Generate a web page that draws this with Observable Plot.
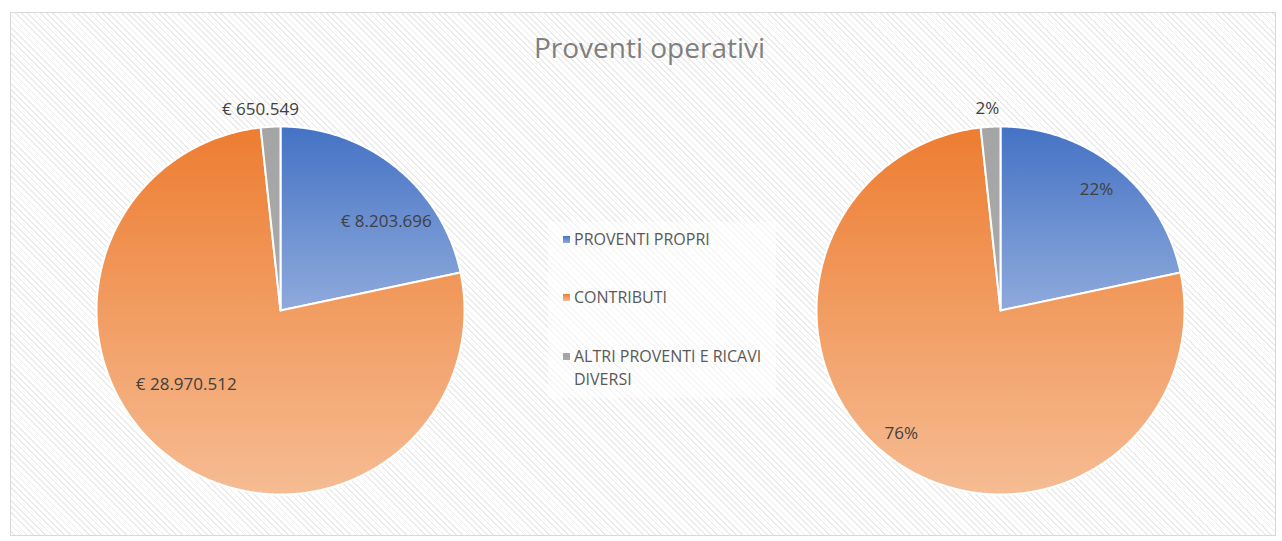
<!DOCTYPE html>
<html>
<head>
<meta charset="utf-8">
<script src="https://cdn.jsdelivr.net/npm/d3@7"></script>
<script src="https://cdn.jsdelivr.net/npm/@observablehq/plot@0.6"></script>
<style>
  html, body { margin: 0; padding: 0; background: #ffffff; }
  #wrap { position: relative; width: 1282px; height: 541px; overflow: hidden; }
  #frame {
    position: absolute; left: 10px; top: 12px; width: 1266px; height: 524px;
    border: 1px solid #d9d9d9; box-sizing: border-box;
    background: repeating-linear-gradient(45deg, #ffffff 0px, #ffffff 2px, #ebebeb 2px, #ebebeb 3.2px, #ffffff 3.2px, #ffffff 4.4px);
  }
  #chart { position: absolute; left: 0; top: 0; }
  #legend {
    position: absolute; left: 548px; top: 222px; width: 228px; height: 176px;
    background: rgba(255,255,255,0.55);
    font-family: "Open Sans", sans-serif; font-size: 16px; color: #595959;
  }
  .item { position: absolute; left: 26px; line-height: 23px; }
  .sw { position: absolute; left: -11px; top: 8px; width: 7px; height: 7px; }
</style>
</head>
<body>
<div id="wrap">
  <div id="frame"></div>
  <div id="chart"></div>
  <div id="legend"></div>
</div>
<script>
// ---- data ----
const title = "Proventi operativi";
const categories = ["PROVENTI PROPRI", "CONTRIBUTI", "ALTRI PROVENTI E RICAVI DIVERSI"];
const values = [8203696, 28970512, 650549];
const valueLabels = ["€ 8.203.696", "€ 28.970.512", "€ 650.549"];
const percentLabels = ["22%", "76%", "2%"];

// ---- style / layout ----
const W = 1282, H = 541;
const topColors = ["#4472C4", "#ED7D31", "#A5A5A5"];
const bottomColors = ["#8FAADC", "#F6BC93", "#A9A9A9"];
const R = 184;
const pies = [
  {cx: 280, cy: 310, labels: valueLabels,
   labelPos: [[50, 0.75], [232, 0.65], [-5.7, 1.1]]},
  {cx: 1000, cy: 310, labels: percentLabels,
   labelPos: [[38.4, 0.84], [218.8, 0.86], [-3.7, 1.1]]}
];

const arcs = d3.pie().sort(null).value(d => d)(values);

function slicePoints(a, cx, cy) {
  const pts = [{x: cx, y: cy}];
  const n = Math.max(2, Math.ceil((a.endAngle - a.startAngle) / (Math.PI / 360)));
  for (let i = 0; i <= n; i++) {
    const t = a.startAngle + (a.endAngle - a.startAngle) * i / n;
    pts.push({x: cx + R * Math.sin(t), y: cy - R * Math.cos(t)});
  }
  pts.push({x: cx, y: cy});
  return pts;
}

const defs = () => {
  const ns = "http://www.w3.org/2000/svg";
  const d = document.createElementNS(ns, "defs");
  topColors.forEach((c, i) => {
    const g = document.createElementNS(ns, "linearGradient");
    g.setAttribute("id", "grad" + i);
    g.setAttribute("x1", "0"); g.setAttribute("y1", "0");
    g.setAttribute("x2", "0"); g.setAttribute("y2", "1");
    const s1 = document.createElementNS(ns, "stop");
    s1.setAttribute("offset", "0"); s1.setAttribute("stop-color", c);
    const s2 = document.createElementNS(ns, "stop");
    s2.setAttribute("offset", "1"); s2.setAttribute("stop-color", bottomColors[i]);
    g.appendChild(s1); g.appendChild(s2); d.appendChild(g);
  });
  return d;
};

const marks = [defs];
const labelRows = [];
pies.forEach(p => {
  arcs.forEach((a, i) => {
    marks.push(Plot.line(slicePoints(a, p.cx, p.cy), {
      x: "x", y: "y", fill: `url(#grad${i})`, stroke: "#ffffff", strokeWidth: 2,
      strokeLinejoin: "round", curve: "linear"
    }));
    const [ang, rf] = p.labelPos[i];
    const t = ang * Math.PI / 180;
    labelRows.push({x: p.cx + rf * R * Math.sin(t), y: p.cy - rf * R * Math.cos(t), text: p.labels[i]});
  });
});
marks.push(Plot.text(labelRows, {
  x: "x", y: "y", text: "text", fill: "#404040", fontSize: 17,
  fontFamily: "Open Sans, sans-serif", textAnchor: "middle"
}));
marks.push(Plot.text([title], {
  x: () => 649, y: () => 49, text: d => d, fill: "#7f7f7f", fontSize: 28,
  fontFamily: "Open Sans, sans-serif", textAnchor: "middle"
}));

const chart = Plot.plot({
  width: W, height: H, margin: 0,
  x: {domain: [0, W], range: [0, W], axis: null},
  y: {domain: [0, H], range: [0, H], axis: null},
  style: {background: "transparent", overflow: "visible"},
  marks
});
document.getElementById("chart").appendChild(chart);

// legend
const legend = document.getElementById("legend");
const tops = [6, 64, 123];
categories.forEach((c, i) => {
  const el = document.createElement("div");
  el.className = "item";
  el.style.top = tops[i] + "px";
  el.style.width = "200px";
  el.innerHTML = `<span class="sw" style="background:linear-gradient(${topColors[i]},${bottomColors[i]})"></span>${c}`;
  legend.appendChild(el);
});
</script>
</body>
</html>
